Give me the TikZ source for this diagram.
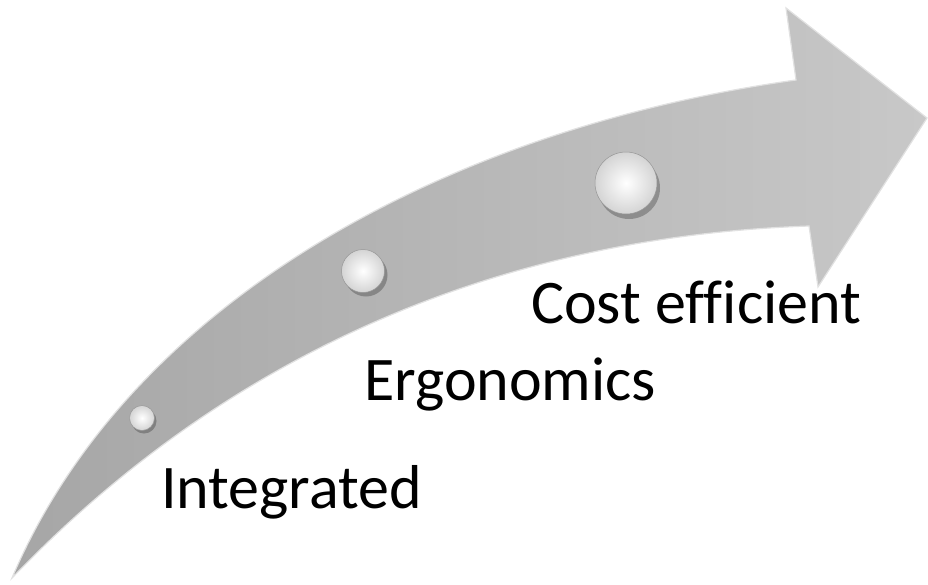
\documentclass[tikz,border=0pt]{standalone}
\usepackage{fontspec}
\setmainfont{Carlito}[Ligatures=NoCommon]
\usetikzlibrary{shadings}
\definecolor{arrowdark}{RGB}{166,166,166}
\definecolor{arrowlight}{RGB}{200,200,200}
\definecolor{edgelight}{RGB}{225,225,225}
\definecolor{ballrim}{RGB}{150,150,150}
\definecolor{ballout}{RGB}{212,212,212}
\tikzset{
  bigarrow/.style={left color=arrowdark, right color=arrowlight, draw=edgelight, line width=1.2pt, line join=miter},
  pearl/.style={circle, inner sep=0pt, draw=ballrim, line width=0.5pt, inner color=white, outer color=ballout},
  pearlshadow/.style={fill=black, opacity=0.25},
  label/.style={anchor=base west, font=\fontsize{62}{74}\selectfont, text=black, inner sep=0pt}
}
\begin{document}
\begin{tikzpicture}[x=1pt,y=-1pt]
\useasboundingbox (0,0) rectangle (928,584);
% arrow body
\coordinate (tail) at (12,578);
\coordinate (topnotch) at (796,80);
\coordinate (topcorner) at (786,8);
\coordinate (tip) at (927,118);
\coordinate (botcorner) at (818,287);
\coordinate (botnotch) at (809,226);
\path[bigarrow] (tail) .. controls (130,300) and (450,128) .. (topnotch)
   -- (topcorner) -- (tip) -- (botcorner) -- (botnotch)
   .. controls (550,235) and (260,320) .. (tail) -- cycle;
% pearls
\fill[pearlshadow] (144,421) circle (12.5);
\fill[pearlshadow] (366,275) circle (21.5);
\fill[pearlshadow] (629,188) circle (31);
\node[pearl, minimum size=25pt] (p1) at (142,418) {};
\node[pearl, minimum size=43pt] (p2) at (363,271) {};
\node[pearl, minimum size=62pt] (p3) at (626,183) {};
% labels
\node[label] (t1) at (161,508) {Integrated};
\node[label] (t2) at (364,400) {Ergonomics};
\node[label] (t3) at (531,323) {Cost efficient};
\end{tikzpicture}
\end{document}
